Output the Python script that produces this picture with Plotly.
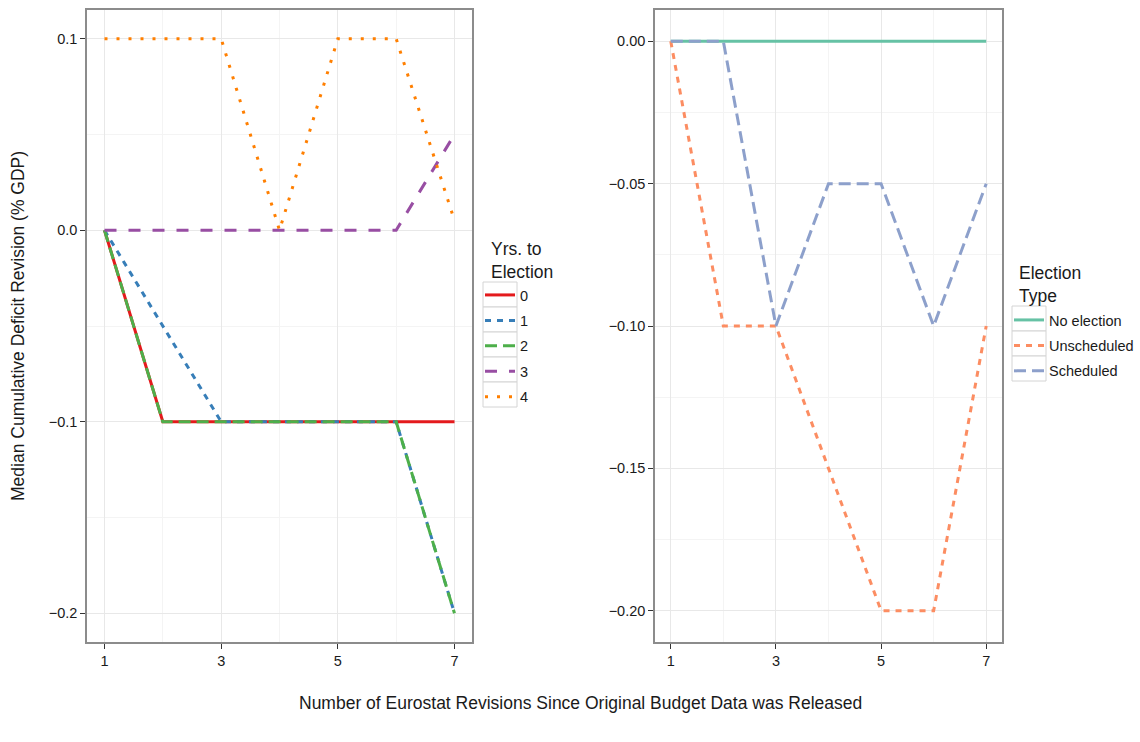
import plotly.graph_objects as go

# ---------------- data ----------------
revisions = [1, 2, 3, 4, 5, 6, 7]

yrs_names = ["0", "1", "2", "3", "4"]
yrs_0 = [0.0, -0.1, -0.1, -0.1, -0.1, -0.1, -0.1]
yrs_1 = [0.0, -0.05, -0.1, -0.1, -0.1, -0.1, -0.2]
yrs_2 = [0.0, -0.1, -0.1, -0.1, -0.1, -0.1, -0.2]
yrs_3 = [0.0, 0.0, 0.0, 0.0, 0.0, 0.0, 0.05]
yrs_4 = [0.1, 0.1, 0.1, 0.0, 0.1, 0.1, 0.005]

type_names = ["No election", "Unscheduled", "Scheduled"]
no_election = [0.0, 0.0, 0.0, 0.0, 0.0, 0.0, 0.0]
unscheduled = [0.0, -0.1, -0.1, -0.15, -0.2, -0.2, -0.1]
scheduled = [0.0, 0.0, -0.1, -0.05, -0.05, -0.1, -0.05]

x_tickvals = [1, 3, 5, 7]
x_ticktext = ["1", "3", "5", "7"]
left_tickvals = [0.1, 0.0, -0.1, -0.2]
left_ticktext = ["0.1", "0.0", "\u22120.1", "\u22120.2"]
right_tickvals = [0.0, -0.05, -0.10, -0.15, -0.20]
right_ticktext = ["0.00", "\u22120.05", "\u22120.10", "\u22120.15", "\u22120.20"]

left_legend_title = "Yrs. to<br>Election"
right_legend_title = "Election<br>Type"
y_title = "Median Cumulative Deficit Revision (% GDP)"
x_title = "Number of Eurostat Revisions Since Original Budget Data was Released"

# ---------------- styles ----------------
W, H = 1140, 742
FONT = "Liberation Sans, Arial, Helvetica, sans-serif"
TXT = "#1a1a1a"
LW = 3
set1 = ["#E41A1C", "#377EB8", "#4DAF4A", "#984EA3", "#FF7F00"]
set2 = ["#66C2A5", "#FC8D62", "#8DA0CB"]
u = LW
dashes5 = ["solid", f"{2*u}px,{2*u}px", f"{4*u}px,{2*u}px", f"{4*u}px,{4*u}px", f"{1*u}px,{3*u}px"]
dashes3 = dashes5[:3]


def px_x(p):
    return p / W


def px_y(p):
    return 1 - p / H


fig = go.Figure()

left_series = [yrs_0, yrs_1, yrs_2, yrs_3, yrs_4]
for i, (name, ys) in enumerate(zip(yrs_names, left_series)):
    fig.add_trace(go.Scatter(
        x=revisions, y=ys, mode="lines", name=name,
        line=dict(color=set1[i], width=LW, dash=dashes5[i]),
        xaxis="x", yaxis="y", legend="legend", legendgroup="L" + name,
    ))

right_series = [no_election, unscheduled, scheduled]
for i, (name, ys) in enumerate(zip(type_names, right_series)):
    fig.add_trace(go.Scatter(
        x=revisions, y=ys, mode="lines", name=name,
        line=dict(color=set2[i], width=LW, dash=dashes3[i]),
        xaxis="x2", yaxis="y2", legend="legend2", legendgroup="R" + name,
    ))

axis_common = dict(
    showline=True, mirror=True, linecolor="#8c8c8c", linewidth=1.5,
    ticks="outside", ticklen=5, tickwidth=1, tickcolor="#333333",
    showgrid=True, gridcolor="#e8e8e8", gridwidth=1,
    zeroline=False,
    tickfont=dict(family=FONT, size=14.5, color=TXT),
)
minor_common = dict(showgrid=True, gridcolor="#f4f4f4", gridwidth=1, ticks="")

ydom = [px_y(642), px_y(10)]

# legend key boxes (ggplot-style)
shapes = []
for k in range(len(yrs_names)):
    shapes.append(dict(type="rect", xref="paper", yref="paper",
                       x0=px_x(483), x1=px_x(517),
                       y0=px_y(282 + 25 * k), y1=px_y(307 + 25 * k),
                       line=dict(color="#d4d4d4", width=1), fillcolor="white", layer="below"))
for k in range(len(type_names)):
    shapes.append(dict(type="rect", xref="paper", yref="paper",
                       x0=px_x(1012), x1=px_x(1046),
                       y0=px_y(306 + 25 * k), y1=px_y(331 + 25 * k),
                       line=dict(color="#d4d4d4", width=1), fillcolor="white", layer="below"))

annotations = [
    dict(text=y_title, textangle=-90,
         x=px_x(18), y=px_y(326), xref="paper", yref="paper",
         xanchor="center", yanchor="middle", showarrow=False,
         font=dict(family=FONT, size=17.5, color=TXT)),
    dict(text=x_title,
         x=px_x(580), y=px_y(703), xref="paper", yref="paper",
         xanchor="center", yanchor="middle", showarrow=False,
         font=dict(family=FONT, size=17.5, color=TXT)),
    dict(text=left_legend_title, x=px_x(489), y=px_y(260), xref="paper", yref="paper",
         xanchor="left", yanchor="middle", align="left", showarrow=False,
         font=dict(family=FONT, size=17.5, color=TXT)),
    dict(text=right_legend_title, x=px_x(1017), y=px_y(284), xref="paper", yref="paper",
         xanchor="left", yanchor="middle", align="left", showarrow=False,
         font=dict(family=FONT, size=17.5, color=TXT)),
]

fig.update_layout(
    width=W, height=H,
    margin=dict(l=0, r=0, t=0, b=0),
    paper_bgcolor="white", plot_bgcolor="white",
    font=dict(family=FONT, size=14.5, color=TXT),
    xaxis=dict(domain=[px_x(87), px_x(472)], range=[0.7, 7.3], anchor="y",
               tickvals=x_tickvals, ticktext=x_ticktext,
               minor=dict(dtick=1, tick0=0, **minor_common), **axis_common),
    yaxis=dict(domain=ydom, range=[-0.215, 0.115], anchor="x",
               tickvals=left_tickvals, ticktext=left_ticktext,
               minor=dict(dtick=0.05, tick0=0, **minor_common), **axis_common),
    xaxis2=dict(domain=[px_x(655), px_x(1002)], range=[0.7, 7.3], anchor="y2",
                tickvals=x_tickvals, ticktext=x_ticktext,
                minor=dict(dtick=1, tick0=0, **minor_common), **axis_common),
    yaxis2=dict(domain=ydom, range=[-0.211, 0.011], anchor="x2",
                tickvals=right_tickvals, ticktext=right_ticktext,
                minor=dict(dtick=0.025, tick0=0, **minor_common), **axis_common),
    legend=dict(
        x=px_x(480), y=px_y(279), xanchor="left", yanchor="top",
        font=dict(family=FONT, size=14.5, color=TXT),
        tracegroupgap=3.6, traceorder="grouped", bgcolor="rgba(0,0,0,0)",
        itemwidth=30,
    ),
    legend2=dict(
        x=px_x(1009), y=px_y(304), xanchor="left", yanchor="top",
        font=dict(family=FONT, size=14.5, color=TXT),
        tracegroupgap=3.6, traceorder="grouped", bgcolor="rgba(0,0,0,0)",
        itemwidth=30,
    ),
    shapes=shapes,
    annotations=annotations,
)

fig.write_html(
    "out.html",
    config={"displayModeBar": False},
    post_script="document.body.style.margin='0px';document.body.style.overflow='hidden';",
)
